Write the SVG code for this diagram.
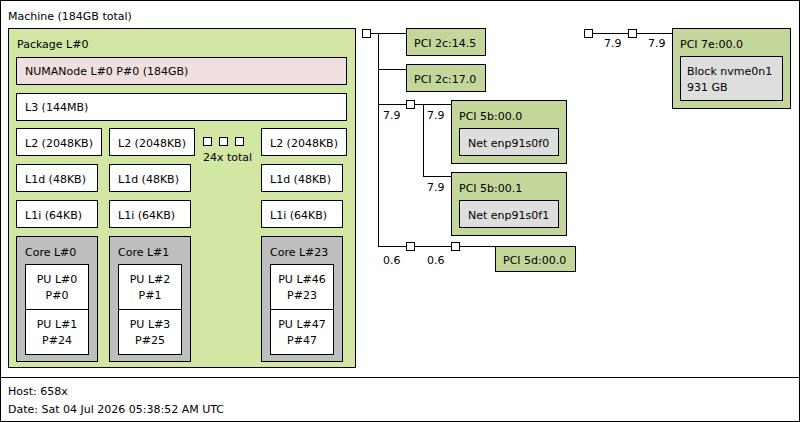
<svg xmlns="http://www.w3.org/2000/svg" width="800" height="422" viewBox="0 0 800 422">
<style>
text{font-family:"DejaVu Sans",sans-serif;font-size:11px;fill:#000}
rect{stroke:#000;stroke-width:1}
.w{fill:#fff}.pk{fill:#d2e7a4}.nu{fill:#efdfde}.co{fill:#bebebe}.pci{fill:#c4d79b}.os{fill:#dedede}
.c line,.c polyline{stroke:#000;stroke-width:1;fill:none}
.c rect{fill:#fff}
.m{text-anchor:middle}
</style>
<rect x="0.5" y="0.5" width="799" height="377" class="w"/>
<rect x="0.5" y="377.5" width="799" height="44" class="w"/>
<text x="8" y="20">Machine (184GB total)</text>
<g id="package"><rect x="8.5" y="28.5" width="347" height="339" class="pk"/><text x="17" y="48">Package L#0</text></g>
<g id="numa"><rect x="16.5" y="57.5" width="330" height="27" class="nu"/><text x="25" y="75">NUMANode L#0 P#0 (184GB)</text></g>
<g id="l3"><rect x="16.5" y="93.5" width="330" height="27" class="w"/><text x="25" y="111">L3 (144MB)</text></g>
<g id="l2a"><rect x="16.5" y="128.5" width="85" height="27" class="w"/><text x="25" y="147">L2 (2048KB)</text></g>
<g id="l2b"><rect x="109.5" y="128.5" width="85" height="27" class="w"/><text x="118" y="147">L2 (2048KB)</text></g>
<g id="l2c"><rect x="261.5" y="128.5" width="85" height="27" class="w"/><text x="270" y="147">L2 (2048KB)</text></g>
<g id="more"><rect x="203.5" y="137.5" width="8" height="8" class="w"/><rect x="219.5" y="137.5" width="8" height="8" class="w"/><rect x="235.5" y="137.5" width="8" height="8" class="w"/><text x="203" y="161">24x total</text></g>
<g id="l1da"><rect x="16.5" y="164.5" width="81" height="27" class="w"/><text x="25" y="183">L1d (48KB)</text></g>
<g id="l1db"><rect x="109.5" y="164.5" width="81" height="27" class="w"/><text x="118" y="183">L1d (48KB)</text></g>
<g id="l1dc"><rect x="261.5" y="164.5" width="81" height="27" class="w"/><text x="270" y="183">L1d (48KB)</text></g>
<g id="l1ia"><rect x="16.5" y="200.5" width="81" height="27" class="w"/><text x="25" y="219">L1i (64KB)</text></g>
<g id="l1ib"><rect x="109.5" y="200.5" width="81" height="27" class="w"/><text x="118" y="219">L1i (64KB)</text></g>
<g id="l1ic"><rect x="261.5" y="200.5" width="81" height="27" class="w"/><text x="270" y="219">L1i (64KB)</text></g>
<g id="core0"><rect x="16.5" y="236.5" width="81" height="125" class="co"/><text x="25" y="256">Core L#0</text>
<rect x="25.5" y="264.5" width="63" height="45" class="w"/><text x="57" y="283" class="m">PU L#0</text><text x="57" y="299" class="m">P#0</text>
<rect x="25.5" y="309.5" width="63" height="45" class="w"/><text x="57" y="328" class="m">PU L#1</text><text x="57" y="344" class="m">P#24</text></g>
<g id="core1"><rect x="109.5" y="236.5" width="81" height="125" class="co"/><text x="118" y="256">Core L#1</text>
<rect x="118.5" y="264.5" width="63" height="45" class="w"/><text x="150" y="283" class="m">PU L#2</text><text x="150" y="299" class="m">P#1</text>
<rect x="118.5" y="309.5" width="63" height="45" class="w"/><text x="150" y="328" class="m">PU L#3</text><text x="150" y="344" class="m">P#25</text></g>
<g id="core23"><rect x="261.5" y="236.5" width="81" height="125" class="co"/><text x="270" y="256">Core L#23</text>
<rect x="270.5" y="264.5" width="63" height="45" class="w"/><text x="302" y="283" class="m">PU L#46</text><text x="302" y="299" class="m">P#23</text>
<rect x="270.5" y="309.5" width="63" height="45" class="w"/><text x="302" y="328" class="m">PU L#47</text><text x="302" y="344" class="m">P#47</text></g>
<g class="c" id="connectors">
<line x1="371" y1="33.5" x2="406" y2="33.5"/>
<line x1="378.5" y1="33" x2="378.5" y2="246"/>
<line x1="378" y1="69.5" x2="406" y2="69.5"/>
<line x1="378" y1="104.5" x2="451" y2="104.5"/>
<line x1="423.5" y1="104" x2="423.5" y2="176"/>
<line x1="423" y1="176.5" x2="451" y2="176.5"/>
<line x1="378" y1="246.5" x2="495" y2="246.5"/>
<line x1="593" y1="33.5" x2="672" y2="33.5"/>
<rect x="362.5" y="29.5" width="8" height="8"/>
<rect x="406.5" y="100.5" width="8" height="8"/>
<rect x="406.5" y="242.5" width="8" height="8"/>
<rect x="451.5" y="242.5" width="8" height="8"/>
<rect x="584.5" y="29.5" width="8" height="8"/>
<rect x="628.5" y="29.5" width="8" height="8"/>
</g>
<text x="383" y="119">7.9</text><text x="427" y="119">7.9</text><text x="427" y="191">7.9</text>
<text x="383" y="264">0.6</text><text x="427" y="264">0.6</text>
<text x="604" y="47">7.9</text><text x="648" y="47">7.9</text>
<g id="pci2c145"><rect x="406.5" y="28.5" width="79" height="27" class="pci"/><text x="414" y="47">PCI 2c:14.5</text></g>
<g id="pci2c170"><rect x="406.5" y="64.5" width="79" height="27" class="pci"/><text x="414" y="83">PCI 2c:17.0</text></g>
<g id="pci5b000"><rect x="451.5" y="100.5" width="115" height="63" class="pci"/><text x="459" y="120">PCI 5b:00.0</text>
<rect x="459.5" y="128.5" width="99" height="27" class="os"/><text x="468" y="147">Net enp91s0f0</text></g>
<g id="pci5b001"><rect x="451.5" y="172.5" width="115" height="63" class="pci"/><text x="459" y="192">PCI 5b:00.1</text>
<rect x="459.5" y="200.5" width="99" height="27" class="os"/><text x="468" y="219">Net enp91s0f1</text></g>
<g id="pci5d"><rect x="495.5" y="246.5" width="80" height="25" class="pci"/><text x="503" y="264">PCI 5d:00.0</text></g>
<g id="pci7e"><rect x="672.5" y="28.5" width="118" height="80" class="pci"/><text x="680" y="48">PCI 7e:00.0</text>
<rect x="680.5" y="56.5" width="102" height="44" class="os"/><text x="687" y="75">Block nvme0n1</text><text x="687" y="91">931 GB</text></g>
<text x="8" y="395">Host: 658x</text>
<text x="8" y="413">Date: Sat 04 Jul 2026 05:38:52 AM UTC</text>
</svg>
